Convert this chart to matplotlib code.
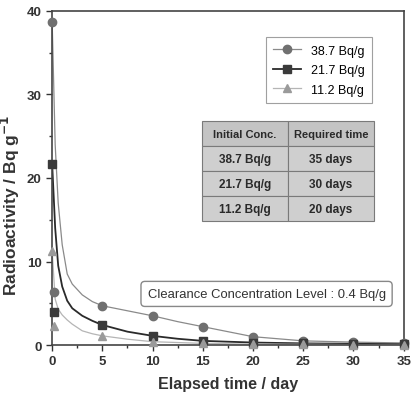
import matplotlib
matplotlib.use("Agg")
import matplotlib.pyplot as plt
from matplotlib.ticker import MultipleLocator

plt.rcParams['font.family'] = ['Liberation Sans', 'DejaVu Sans']

# measured points
days = [0, 0.2, 5, 10, 15, 20, 25, 30, 35]
act_387 = [38.7, 6.3, 4.7, 3.5, 2.2, 1.0, 0.5, 0.35, 0.25]
act_217 = [21.7, 4.0, 2.4, 1.1, 0.5, 0.3, 0.2, 0.15, 0.1]
act_112 = [11.2, 2.3, 1.1, 0.4, 0.2, 0.1, 0.1, 0.05, 0.05]

# curve
curve_x = [0, 0.3, 0.6, 1, 1.5, 2, 3, 4, 5, 7.5, 10, 12.5, 15, 20, 25, 30, 35]
curve_387 = [38.7, 24, 17, 12, 8.5, 7.3, 6.0, 5.2, 4.7, 4.1, 3.5, 2.8, 2.2, 1.0, 0.5, 0.35, 0.25]
curve_217 = [21.7, 14, 9.5, 7, 5.3, 4.4, 3.5, 2.9, 2.4, 1.6, 1.1, 0.75, 0.5, 0.3, 0.2, 0.15, 0.1]
curve_112 = [11.2, 5.5, 4.3, 3.6, 3.0, 2.5, 1.7, 1.35, 1.1, 0.7, 0.4, 0.3, 0.2, 0.1, 0.1, 0.05, 0.05]

legend_labels = ["38.7 Bq/g", "21.7 Bq/g", "11.2 Bq/g"]
table_header = ["Initial Conc.", "Required time"]
table_rows = [["38.7 Bq/g", "35 days"], ["21.7 Bq/g", "30 days"], ["11.2 Bq/g", "20 days"]]
clearance_text = "Clearance Concentration Level : 0.4 Bq/g"

fig = plt.figure(figsize=(4.14, 4.10), dpi=100)
ax = fig.add_axes([0.126, 0.156, 0.849, 0.815])

series = [
    (curve_387, act_387, "#8a8a8a", "#707070", "o", 0.9, legend_labels[0]),
    (curve_217, act_217, "#2a2a2a", "#3a3a3a", "s", 1.3, legend_labels[1]),
    (curve_112, act_112, "#b5b5b5", "#9a9a9a", "^", 0.9, legend_labels[2]),
]
handles = []
for cy, py, lc, mc, mk, lw, lab in series:
    ax.plot(curve_x, cy, color=lc, lw=lw, zorder=2)
    ax.plot(days, py, linestyle='none', marker=mk, color=mc, ms=6, zorder=3, clip_on=False)
    h, = ax.plot([], [], color=lc, lw=lw, marker=mk, mfc=mc, mec=mc, ms=6, label=lab)
    handles.append(h)

ax.set_xlim(0, 35)
ax.set_ylim(0, 40)
ax.xaxis.set_major_locator(MultipleLocator(5))
ax.xaxis.set_minor_locator(MultipleLocator(2.5))
ax.yaxis.set_major_locator(MultipleLocator(10))
ax.yaxis.set_minor_locator(MultipleLocator(5))
ax.tick_params(which='both', direction='out', width=1.0, labelsize=9.5, colors='#333333')
ax.tick_params(which='major', length=4)
ax.tick_params(which='minor', length=2)
for lab in ax.get_xticklabels() + ax.get_yticklabels():
    lab.set_fontweight('bold')
for sp in ax.spines.values():
    sp.set_color('#444444')
    sp.set_linewidth(1.2)

ax.set_xlabel("Elapsed time / day", fontsize=11.5, fontweight='bold', color='#333333', labelpad=6)
ax.set_ylabel("Radioactivity / Bq g$^{\\mathbf{-1}}$", fontsize=12.5, fontweight='bold', color='#333333', labelpad=2)
ax.yaxis.set_label_coords(-0.085, 0.42)

leg = ax.legend(handles=handles, loc='upper left', bbox_to_anchor=(0.59, 0.94), fontsize=9,
                frameon=True, fancybox=False, edgecolor='#888888', handlelength=2.2,
                borderpad=0.6, labelspacing=0.6)
leg.get_frame().set_linewidth(0.8)

tbl = ax.table(cellText=table_rows, colLabels=table_header, cellLoc='center',
               bbox=[0.426, 0.37, 0.49, 0.30])
tbl.auto_set_font_size(False)
for (r, c), cell in tbl.get_celld().items():
    cell.set_facecolor('#c4c4c4' if r == 0 else '#cfcfcf')
    cell.set_edgecolor('#7a7a7a')
    cell.set_linewidth(0.8)
    cell.get_text().set_fontsize(8 if r == 0 else 8.5)
    cell.get_text().set_color('#2a2a2a')
    cell.get_text().set_fontweight('bold')

ax.text(0.61, 0.153, clearance_text, transform=ax.transAxes, ha='center', va='center',
        fontsize=9.4, color='#333333',
        bbox=dict(boxstyle='round,pad=0.5,rounding_size=0.3', fc='white', ec='#888888', lw=1.0))

fig.savefig("out.png", dpi=100)
